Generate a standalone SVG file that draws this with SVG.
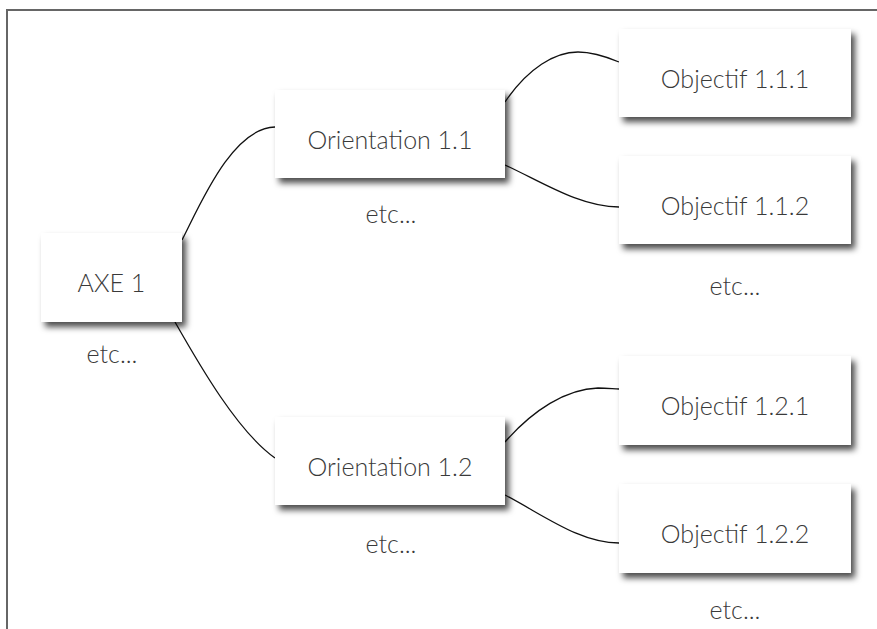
<svg xmlns="http://www.w3.org/2000/svg" width="877" height="629" viewBox="0 0 877 629">
  <defs>
    <filter id="sh" x="-20%" y="-20%" width="150%" height="160%">
      <feDropShadow dx="4" dy="5" stdDeviation="3" flood-color="#000" flood-opacity="0.7"/>
    </filter>
    <style>
      .box { fill: #ffffff; filter: url(#sh); }
      .lbl { font-family: "Lato", "Open Sans", "Liberation Sans", sans-serif; font-weight: 300; font-size: 25px; fill: #3a3a3a; text-anchor: middle; }
      .etc { font-family: "Lato", "Open Sans", "Liberation Sans", sans-serif; font-weight: 300; font-size: 25px; fill: #3a3a3a; text-anchor: middle; }
      .conn { fill: none; stroke: #111; stroke-width: 1.3; }
    </style>
  </defs>
  <rect x="0" y="0" width="877" height="629" fill="#ffffff"/>
  <g id="frame">
    <line x1="6" y1="10" x2="877" y2="10" stroke="#333" stroke-width="1.6"/>
    <line x1="7" y1="10" x2="7" y2="629" stroke="#666" stroke-width="2"/>
  </g>
  <g id="connectors">
    <path class="conn" d="M182,240 C200,205 232,128 275,127"/>
    <path class="conn" d="M175,322 C200,366 238,432 275,458"/>
    <path class="conn" d="M505,102 C528,68 555,52 578,52 C594,52 607,57 619,62"/>
    <path class="conn" d="M505,165 C542,182 580,207 619,207"/>
    <path class="conn" d="M505,442 C533,410 566,389 598,388 C608,388 614,389 619,389"/>
    <path class="conn" d="M505,495 C545,516 580,543 619,543"/>
  </g>
  <g id="axe1">
    <rect class="box" x="41" y="233" width="141" height="89"/>
    <text class="lbl" x="111.5" y="292">AXE 1</text>
    <text class="etc" x="112" y="363">etc...</text>
  </g>
  <g id="orientation11">
    <rect class="box" x="275" y="90" width="230" height="88"/>
    <text class="lbl" x="390" y="149">Orientation 1.1</text>
    <text class="etc" x="391" y="223">etc...</text>
  </g>
  <g id="orientation12">
    <rect class="box" x="275" y="417" width="230" height="88"/>
    <text class="lbl" x="390" y="476">Orientation 1.2</text>
    <text class="etc" x="391" y="553">etc...</text>
  </g>
  <g id="objectif111">
    <rect class="box" x="619" y="29" width="232" height="88"/>
    <text class="lbl" x="735" y="88">Objectif 1.1.1</text>
  </g>
  <g id="objectif112">
    <rect class="box" x="619" y="156" width="232" height="88"/>
    <text class="lbl" x="735" y="215">Objectif 1.1.2</text>
    <text class="etc" x="735" y="295">etc...</text>
  </g>
  <g id="objectif121">
    <rect class="box" x="619" y="356" width="232" height="89"/>
    <text class="lbl" x="735" y="415">Objectif 1.2.1</text>
  </g>
  <g id="objectif122">
    <rect class="box" x="619" y="484" width="232" height="89"/>
    <text class="lbl" x="735" y="543">Objectif 1.2.2</text>
    <text class="etc" x="735" y="619">etc...</text>
  </g>
</svg>
